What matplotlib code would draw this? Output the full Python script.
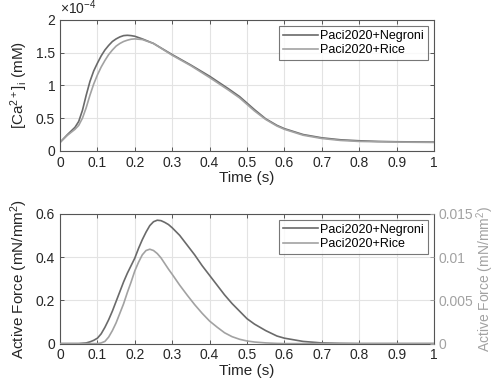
import numpy as np
import matplotlib.pyplot as plt

plt.rcParams['font.family'] = ['Liberation Sans', 'DejaVu Sans']
plt.rcParams['mathtext.fontset'] = 'custom'
plt.rcParams['mathtext.rm'] = 'Liberation Sans'
plt.rcParams['mathtext.it'] = 'Liberation Sans'

# calcium transient, x 1e-4 mM
t_ca = [0, 0.02, 0.04, 0.05, 0.06, 0.07, 0.08, 0.09, 0.10, 0.11, 0.12, 0.13,
        0.14, 0.15, 0.16, 0.17, 0.18, 0.19, 0.20, 0.22, 0.25, 0.30, 0.35, 0.40,
        0.45, 0.48, 0.50, 0.52, 0.55, 0.58, 0.60, 0.65, 0.70, 0.75, 0.80, 0.85,
        0.90, 1.0]
ca_negroni = [0.13, 0.25, 0.36, 0.45, 0.62, 0.85, 1.06, 1.22, 1.34, 1.45, 1.54, 1.61,
              1.67, 1.71, 1.74, 1.76, 1.765, 1.76, 1.75, 1.71, 1.64, 1.47, 1.31, 1.14,
              0.95, 0.83, 0.73, 0.63, 0.49, 0.39, 0.34, 0.25, 0.20, 0.17, 0.155, 0.145,
              0.14, 0.135]
ca_rice = [0.13, 0.24, 0.33, 0.39, 0.50, 0.66, 0.85, 1.02, 1.16, 1.28, 1.38, 1.47,
           1.54, 1.60, 1.64, 1.67, 1.69, 1.705, 1.71, 1.70, 1.64, 1.46, 1.30, 1.12,
           0.93, 0.81, 0.71, 0.61, 0.48, 0.38, 0.33, 0.24, 0.19, 0.16, 0.145, 0.14,
           0.135, 0.13]
ca_ticks = [0, 0.5, 1, 1.5, 2]

# active force
t_f = [0, 0.05, 0.07, 0.08, 0.09, 0.10, 0.11, 0.12, 0.13, 0.14, 0.15, 0.16, 0.17,
       0.18, 0.19, 0.20, 0.21, 0.22, 0.23, 0.24, 0.25, 0.26, 0.27, 0.28, 0.29, 0.30,
       0.32, 0.34, 0.36, 0.38, 0.40, 0.42, 0.44, 0.46, 0.48, 0.50, 0.52, 0.55, 0.58,
       0.60, 0.65, 0.70, 0.75, 0.80, 1.0]
f_negroni = [0, 0, 0.003, 0.008, 0.015, 0.025, 0.045, 0.075, 0.11, 0.15, 0.195, 0.24,
             0.285, 0.325, 0.36, 0.395, 0.44, 0.48, 0.515, 0.545, 0.563, 0.57, 0.568,
             0.56, 0.55, 0.535, 0.50, 0.455, 0.41, 0.36, 0.315, 0.27, 0.225, 0.185,
             0.15, 0.115, 0.09, 0.06, 0.035, 0.025, 0.01, 0.003, 0.001, 0, 0]
f_rice = [0, 0, 0, 0, 0, 0, 0.000075, 0.00025, 0.00075, 0.0015, 0.0024, 0.0035,
          0.0046, 0.0059, 0.0071, 0.0084, 0.0094, 0.01025, 0.01075, 0.0109, 0.01075,
          0.0104, 0.0099, 0.00925, 0.0086, 0.008, 0.00675, 0.0056, 0.0045, 0.0035,
          0.0026, 0.0019, 0.00125, 0.0008, 0.0005, 0.0003, 0.00018, 0.00008, 0.00002,
          0, 0, 0, 0, 0, 0]
f_ticks = [0, 0.2, 0.4, 0.6]
f_ticks_right = [0, 0.005, 0.01, 0.015]
t_ticks = [0, 0.1, 0.2, 0.3, 0.4, 0.5, 0.6, 0.7, 0.8, 0.9, 1]

c_neg = '#6a6a6a'
c_rice = '#a2a2a2'
c_ax = '#555555'
c_grid = '#e3e3e3'
c_txt = '#262626'

fig = plt.figure(figsize=(4.96, 3.9), dpi=100)
ax1 = fig.add_axes([0.121, 0.613, 0.754, 0.336])
ax2 = fig.add_axes([0.121, 0.119, 0.754, 0.333])


def fmt(v):
    return '%g' % v


def style(ax, right=True):
    ax.set_xlim(0, 1)
    ax.set_xticks(t_ticks)
    ax.set_xticklabels([fmt(v) for v in t_ticks])
    ax.grid(True, color=c_grid, linewidth=0.8)
    ax.set_axisbelow(True)
    ax.tick_params(direction='in', length=3, width=0.7, colors=c_ax, labelsize=10,
                   top=True, right=right, labelcolor=c_txt)
    for s in ax.spines.values():
        s.set_color(c_ax)
        s.set_linewidth(0.8)
    ax.set_xlabel('Time (s)', fontsize=11, color=c_txt, labelpad=1)


def add_legend(ax, handles, labels):
    leg = ax.legend(handles, labels, loc='upper right', fontsize=9, frameon=True,
                    fancybox=False, edgecolor=c_ax, borderpad=0.3, handlelength=2.8,
                    handletextpad=0.2, labelspacing=0.2, borderaxespad=0.5)
    leg.get_frame().set_linewidth(0.8)
    return leg


# top: calcium
la, = ax1.plot(t_ca, np.array(ca_negroni) * 1e-4, color=c_neg, lw=1.2)
lb, = ax1.plot(t_ca, np.array(ca_rice) * 1e-4, color=c_rice, lw=1.2)
style(ax1)
ax1.set_ylim(0, 2e-4)
ax1.set_yticks([v * 1e-4 for v in ca_ticks])
ax1.set_yticklabels([fmt(v) for v in ca_ticks])
ax1.text(0.0, 1.02, r'$\times10^{-4}$', transform=ax1.transAxes, fontsize=10,
         color=c_txt, ha='left', va='bottom')
ax1.set_ylabel('[Ca$^{2+}$]$_\\mathrm{i}$ (mM)', fontsize=11, color=c_txt, labelpad=4)
add_legend(ax1, [la, lb], ['Paci2020+Negroni', 'Paci2020+Rice'])

# bottom: active force, Rice on right axis
ax3 = ax2.twinx()
l1, = ax2.plot(t_f, f_negroni, color=c_neg, lw=1.2)
l2, = ax3.plot(t_f, f_rice, color=c_rice, lw=1.2)
style(ax2, right=False)
ax2.set_ylim(0, 0.6)
ax2.set_yticks(f_ticks)
ax2.set_yticklabels([fmt(v) for v in f_ticks])
ax2.set_ylabel('Active Force (mN/mm$^2$)', fontsize=11, color=c_txt, labelpad=4)

ax3.set_ylim(0, 0.015)
ax3.set_yticks(f_ticks_right)
ax3.set_yticklabels([fmt(v) for v in f_ticks_right])
ax3.tick_params(axis='y', direction='in', length=3, width=0.7, colors=c_rice,
                labelsize=10, labelcolor=c_rice, pad=3)
for s in ax3.spines.values():
    s.set_visible(False)
ax3.set_ylabel('Active Force (mN/mm$^2$)', fontsize=10, color=c_rice, labelpad=1)
add_legend(ax3, [l1, l2], ['Paci2020+Negroni', 'Paci2020+Rice'])

fig.savefig('out.png', dpi=100)
